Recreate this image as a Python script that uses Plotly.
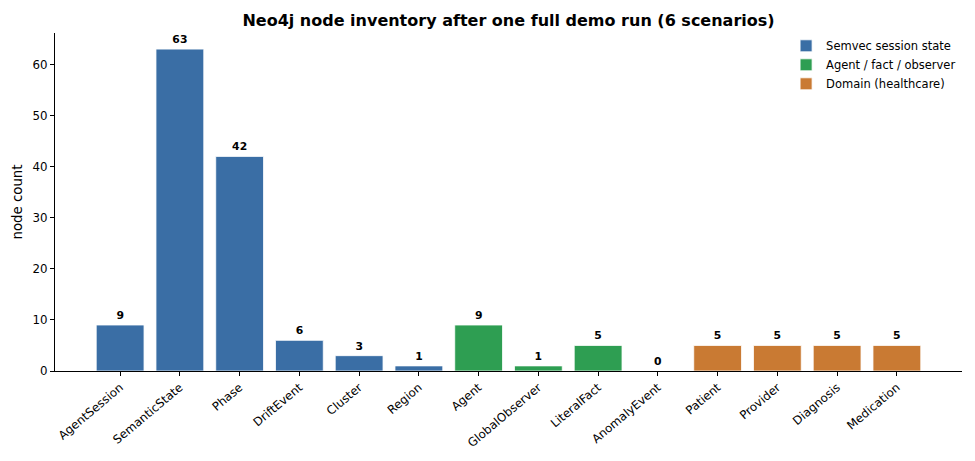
import plotly.graph_objects as go

# node labels and counts, grouped by legend category
semvec_labels = ["AgentSession", "SemanticState", "Phase", "DriftEvent", "Cluster", "Region"]
semvec_counts = [9, 63, 42, 6, 3, 1]

agent_labels = ["Agent", "GlobalObserver", "LiteralFact", "AnomalyEvent"]
agent_counts = [9, 1, 5, 0]

domain_labels = ["Patient", "Provider", "Diagnosis", "Medication"]
domain_counts = [5, 5, 5, 5]

all_labels = semvec_labels + agent_labels + domain_labels

groups = [
    ("Semvec session state", semvec_labels, semvec_counts, "#3a6ea5"),
    ("Agent / fact / observer", agent_labels, agent_counts, "#2e9e52"),
    ("Domain (healthcare)", domain_labels, domain_counts, "#c97a33"),
]

font = "DejaVu Sans"

fig = go.Figure()
for name, labels, counts, color in groups:
    fig.add_trace(go.Bar(
        x=labels, y=counts, name=name,
        marker=dict(color=color, line=dict(color="white", width=0.8)),
        width=0.8,
        text=counts, textposition="outside", cliponaxis=False,
        textfont=dict(family=font, size=10.8, color="black"),
        texttemplate="<b>%{text}</b>",
    ))

# the page body adds an 8px offset, so margins are shifted to compensate
fig.update_layout(
    width=975, height=461,
    barmode="overlay",
    plot_bgcolor="white", paper_bgcolor="white",
    font=dict(family=font, size=11.5, color="black"),
    margin=dict(l=47, r=21, t=25, b=98),
    title=dict(text="<b>Neo4j node inventory after one full demo run (6 scenarios)</b>",
               x=0.5, xref="paper", xanchor="center", y=0.985, yanchor="top",
               font=dict(family=font, size=16)),
    legend=dict(x=0.999, y=1.005, xanchor="right", yanchor="top",
                font=dict(family=font, size=11.5), bgcolor="rgba(255,255,255,0.8)",
                tracegroupgap=0),
    showlegend=True,
)
fig.update_xaxes(
    categoryorder="array", categoryarray=all_labels,
    range=[-1.09, 14.09], automargin=False,
    tickangle=-40, ticks="outside", ticklen=4, tickcolor="black",
    showline=True, linecolor="black", linewidth=1, showgrid=False,
    tickfont=dict(family=font, size=11.8),
)
fig.update_yaxes(
    range=[0, 66.15], tickvals=[0, 10, 20, 30, 40, 50, 60], automargin=False,
    ticks="outside", ticklen=4, tickcolor="black",
    showline=True, linecolor="black", linewidth=1, showgrid=False, zeroline=False,
    title=dict(text="node count", font=dict(family=font, size=13.3), standoff=6),
    tickfont=dict(family=font, size=11.8),
)

fig.write_html("out.html")
